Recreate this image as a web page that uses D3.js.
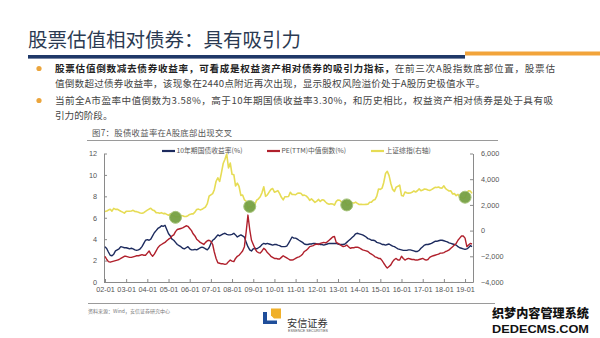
<!DOCTYPE html>
<html><head><meta charset="utf-8">
<script src="https://cdn.jsdelivr.net/npm/d3@7/dist/d3.min.js"></script>
<style>
html,body{margin:0;padding:0;background:#fff;}
svg{display:block;font-family:"Noto Sans CJK SC","Liberation Sans",sans-serif;}
</style></head>
<body><svg id="c" width="600" height="338"></svg>
<script>
// ---------- data (monthly, 2002-01 .. 2019-05) ----------
const startMonth = "2002-01";
const endMonth = "2019-05";
const bond10y = [
3.3,3.1,2.8,2.5,2.45,2.6,2.9,3.0,3.1,3.3,3.25,3.2,
3.2,3.15,3.1,3.15,3.1,3.0,2.95,3.0,3.1,3.3,3.6,3.9,
3.95,3.9,4.0,4.3,4.6,4.8,5.0,5.1,5.25,5.2,5.3,4.9,
4.5,4.3,4.0,3.9,3.7,3.5,3.4,3.3,3.15,3.1,3.2,3.3,
3.1,3.0,3.0,3.05,3.0,3.1,3.2,3.25,3.2,3.1,3.0,3.2,
3.6,3.9,4.0,4.2,4.4,4.3,4.4,4.5,4.55,4.45,4.4,4.4,
4.45,4.55,4.4,4.2,4.3,4.4,4.3,4.2,3.7,3.3,3.0,2.9,
3.1,3.15,3.1,3.2,3.3,3.5,3.6,3.55,3.6,3.55,3.5,3.45,
3.5,3.5,3.45,3.4,3.3,3.3,3.3,3.35,3.6,3.9,4.2,4.1,
4.1,4.0,3.9,3.8,3.7,3.55,3.5,3.5,3.55,3.55,3.6,3.6,
3.55,3.55,3.5,3.5,3.45,3.5,3.55,3.6,3.6,3.6,3.6,3.6,
3.55,3.5,3.5,3.5,3.55,3.7,3.85,4.0,4.15,4.3,4.5,4.55,
4.5,4.45,4.4,4.3,4.2,4.05,4.0,3.9,3.9,3.85,3.7,3.65,
3.6,3.5,3.5,3.45,3.5,3.55,3.45,3.35,3.3,3.2,3.1,3.05,
3.0,2.95,2.95,2.95,3.0,3.0,2.95,2.9,2.85,2.85,2.95,3.15,
3.3,3.45,3.5,3.5,3.55,3.6,3.7,3.8,3.8,3.85,3.9,3.9,
3.85,3.8,3.75,3.65,3.6,3.55,3.5,3.45,3.3,3.2,3.15,3.1,
3.05,3.1,3.2,3.4,3.3];
const peInverse = [
2.4,2.1,1.9,1.85,1.9,1.95,2.0,2.05,2.1,2.2,2.3,2.4,
2.4,2.35,2.3,2.3,2.35,2.4,2.45,2.45,2.5,2.55,2.5,2.5,
2.7,2.9,2.6,2.4,2.6,2.9,3.2,3.4,3.5,3.6,3.7,3.85,
4.0,4.1,4.3,4.4,4.7,4.9,4.95,5.0,5.05,5.15,5.25,5.2,
5.0,4.8,4.5,4.3,4.0,3.85,3.7,3.6,3.5,3.7,3.85,3.9,
3.8,3.5,2.8,2.2,1.8,1.75,1.7,1.7,1.65,1.7,1.9,2.05,
1.95,1.9,2.2,2.4,2.5,2.7,2.9,3.3,4.7,6.25,4.9,3.9,
3.5,3.1,2.85,2.75,2.7,2.9,3.15,3.0,2.75,2.6,2.4,2.3,
2.2,2.2,2.15,2.15,2.3,2.45,2.35,2.25,2.15,2.05,2.05,2.1,
2.2,2.3,2.35,2.45,2.6,2.85,2.95,3.1,3.3,3.35,3.4,3.5,
3.55,3.5,3.6,3.65,3.7,3.65,3.75,3.9,4.05,4.2,4.25,3.7,
3.6,3.5,3.4,3.3,3.35,3.45,3.3,3.15,3.2,3.2,3.25,3.25,
3.2,3.1,3.0,2.95,2.9,2.85,2.7,2.6,2.5,2.35,2.3,2.2,
2.2,2.0,1.75,1.5,1.3,1.45,1.6,1.9,2.1,2.2,2.05,2.05,
2.4,2.2,2.05,2.15,2.2,2.15,2.1,2.1,2.05,2.05,2.1,2.15,
2.2,2.1,2.05,2.1,2.3,2.4,2.45,2.5,2.55,2.6,2.7,2.7,
2.75,2.85,2.9,3.0,3.15,3.3,3.45,3.6,3.9,4.1,4.3,4.3,
4.1,3.3,3.45,3.6,3.55];
const shIndex = [
1490,1524,1598,1666,1516,1733,1651,1667,1582,1507,1437,1357,
1500,1511,1510,1521,1576,1487,1477,1421,1367,1348,1397,1497,
1590,1675,1742,1595,1555,1399,1386,1342,1396,1320,1340,1266,
1191,1306,1181,1159,1060,1080,1083,1162,1155,1092,1099,1161,
1258,1299,1298,1440,1641,1672,1612,1658,1752,1837,2099,2675,
2786,2881,3183,3841,4109,3820,4471,5218,5552,5954,4871,5261,
4383,4348,3472,3693,3433,2736,2775,2397,2293,1729,1871,1821,
1991,2082,2373,2477,2633,2959,3412,2668,2779,2996,3195,3277,
2989,3051,3110,2870,2592,2398,2638,2639,2656,2979,2820,2808,
2790,2905,2928,2911,2743,2762,2701,2568,2359,2468,2333,2199,
2292,2428,2263,2396,2373,2225,2103,2047,2086,2069,1980,2269,
2385,2365,2237,2177,2300,1979,1994,2098,2175,2141,2220,2116,
2033,2056,2033,2026,2039,2048,2202,2217,2364,2420,2683,3235,
3210,3310,3748,4442,4612,4277,3664,3206,3053,3383,3445,3539,
2738,2688,3004,2938,2917,2930,2979,3085,3005,3100,3250,3104,
3159,3242,3223,3155,3117,3192,3273,3361,3349,3393,3317,3307,
3481,3259,3169,3082,3095,2847,2876,2725,2821,2603,2588,2494,
2585,2941,3091,3078,2898];
const bottomMonths = ["2005-05","2008-11","2013-06","2019-01"];
const bottomIndex = [1030,1880,2000,2600];
const leftTicks = [0,2,4,6,8,10,12];
const rightTicks = [-4000,-2000,0,2000,4000,6000];
const seriesNames = ["10年期国债收益率(%)","PE(TTM)中值倒数(%)","上证综指(右轴)"];
const seriesColors = ["#1d2b5e","#b0202c","#e6dc55"];

// ---------- helpers ----------
const parseM = d3.timeParse("%Y-%m");
const months = d3.timeMonth.range(parseM(startMonth), d3.timeMonth.offset(parseM(endMonth),1));

const svg = d3.select("#c");
const cjk = '"Noto Sans CJK SC",sans-serif';
const latin = '"Liberation Sans",Arial,sans-serif';

// ---------- header ----------
svg.append("text").attr("x",28).attr("y",47).attr("font-size",19.5)
  .attr("font-family",cjk).attr("fill","#2b3a52").text("股票估值相对债券：具有吸引力");
svg.append("rect").attr("x",28).attr("y",55).attr("width",437).attr("height",3.6).attr("fill","#1f3868");
svg.append("rect").attr("x",465).attr("y",51.5).attr("width",135).attr("height",4).attr("fill","#f2a43a");

const bullets = [
  {y:72, dot:true, w:500, parts:[["股票估值倒数减去债券收益率，可看成是权益资产相对债券的吸引力指标，",true],["在前三次A股指数底部位置，股票估",false]]},
  {y:86.5, dot:false, w:430, parts:[["值倒数超过债券收益率，该现象在2440点附近再次出现，显示股权风险溢价处于A股历史极值水平。",false]]},
  {y:104, dot:true, w:498, parts:[["当前全A市盈率中值倒数为3.58%，高于10年期国债收益率3.30%，和历史相比，权益资产相对债券是处于具有吸",false]]},
  {y:118.5, dot:false, w:null, parts:[["引力的阶段。",false]]}
];
bullets.forEach(b=>{
  if(b.dot) svg.append("circle").attr("cx",39).attr("cy",b.y-3.5).attr("r",2.6).attr("fill","#eba53c");
  const t = svg.append("text").attr("x",55).attr("y",b.y).attr("font-size",9.6).attr("font-family",cjk);
  if(b.w) t.attr("textLength",b.w).attr("lengthAdjust","spacing");
  b.parts.forEach(p=>t.append("tspan").attr("font-weight",p[1]?700:400).attr("fill",p[1]?"#222":"#444").text(p[0]));
});

// ---------- chart ----------
const L=104, R=473, T=153.5, B=282;
const x = d3.scaleTime().domain([new Date(2001,11,15), new Date(2019,4,18)]).range([L,R]);
const yL = d3.scaleLinear().domain([0,12]).range([B,T]);
const yR = d3.scaleLinear().domain([-4000,6000]).range([B,T]);

svg.append("text").attr("x",92).attr("y",136).attr("font-size",8.4).attr("font-family",cjk)
  .attr("fill","#555").attr("textLength",140).attr("lengthAdjust","spacing").text("图7：股债收益率在A股底部出现交叉");
svg.append("line").attr("x1",87).attr("x2",498).attr("y1",140.5).attr("y2",140.5).attr("stroke","#9a9a9a").attr("stroke-width",1);

// legend
const legX = [162,267,371];
seriesNames.forEach((n,i)=>{
  svg.append("line").attr("x1",legX[i]).attr("x2",legX[i]+13).attr("y1",151).attr("y2",151)
    .attr("stroke",seriesColors[i]).attr("stroke-width",2.2);
  svg.append("text").attr("x",legX[i]+14.5).attr("y",153.4).attr("font-size",6.8).attr("font-family",cjk)
    .attr("fill","#555").text(n);
});

// axes
function styleAxis(g){
  g.selectAll("path").attr("stroke","#8a8a8a");
  g.selectAll("line").attr("stroke","#8a8a8a");
  g.selectAll("text").attr("fill","#555").attr("font-size",7.3).attr("font-family",latin);
}
svg.append("g").attr("transform",`translate(${L},0)`)
  .call(d3.axisLeft(yL).tickValues(leftTicks).tickSizeInner(-3).tickSizeOuter(0).tickPadding(7))
  .call(styleAxis);
svg.append("g").attr("transform",`translate(${R},0)`)
  .call(d3.axisRight(yR).tickValues(rightTicks).tickSizeInner(-3).tickSizeOuter(0).tickPadding(8))
  .call(styleAxis);
svg.append("g").attr("transform",`translate(0,${B})`)
  .call(d3.axisBottom(x).ticks(d3.timeYear.every(1)).tickFormat(d3.timeFormat("%y-%m")).tickSizeInner(-3).tickSizeOuter(0).tickPadding(5))
  .call(styleAxis);

// lines
const lineL = d3.line().x((d,i)=>x(months[i])).y(d=>yL(d));
const lineR = d3.line().x((d,i)=>x(months[i])).y(d=>yR(d));
svg.append("path").datum(shIndex).attr("d",lineR).attr("fill","none").attr("stroke",seriesColors[2]).attr("stroke-width",1.6).attr("stroke-linejoin","round");
svg.append("path").datum(bond10y).attr("d",lineL).attr("fill","none").attr("stroke",seriesColors[0]).attr("stroke-width",1.4).attr("stroke-linejoin","round");
svg.append("path").datum(peInverse).attr("d",lineL).attr("fill","none").attr("stroke",seriesColors[1]).attr("stroke-width",1.4).attr("stroke-linejoin","round");

// bottom markers
bottomMonths.forEach((m,i)=>{
  svg.append("circle").attr("cx",x(parseM(m))).attr("cy",yR(bottomIndex[i])).attr("r",6)
    .attr("fill","#76a043").attr("stroke","#a8c47c").attr("stroke-width",1).attr("fill-opacity",0.95);
});

// ---------- footer ----------
svg.append("line").attr("x1",88).attr("x2",495).attr("y1",303.5).attr("y2",303.5).attr("stroke","#9a9a9a").attr("stroke-width",1.2);
svg.append("text").attr("x",88).attr("y",313).attr("font-size",5).attr("font-family",cjk).attr("fill","#777")
  .text("资料来源：Wind，安信证券研究中心");
// logo
svg.append("path").attr("d","M263,312 h4 v8.5 h10 v3.5 h-14 z").attr("fill","#1f4e9a");
svg.append("path").attr("d","M271,308.5 h10 v10 h-7 l-3,-3 z").attr("fill","#f0b02a");
svg.append("text").attr("x",287).attr("y",327).attr("font-size",10.2).attr("font-family",cjk).attr("fill","#333").text("安信证券");
svg.append("text").attr("x",288).attr("y",332).attr("font-size",3.6).attr("font-family",latin).attr("fill","#555")
  .attr("textLength",40).attr("lengthAdjust","spacingAndGlyphs").text("ESSENCE SECURITIES");
// watermark
svg.append("text").attr("x",492).attr("y",318).attr("font-size",12).attr("font-weight",900).attr("font-family",cjk)
  .attr("fill","#111").attr("stroke","#fff").attr("stroke-width",2).attr("paint-order","stroke")
  .attr("textLength",97).attr("lengthAdjust","spacingAndGlyphs").text("织梦内容管理系统");
svg.append("text").attr("x",492).attr("y",333).attr("font-size",11).attr("font-weight",700).attr("font-family",latin)
  .attr("fill","#111").attr("stroke","#fff").attr("stroke-width",2).attr("paint-order","stroke")
  .attr("textLength",97).attr("lengthAdjust","spacingAndGlyphs").text("DEDECMS.COM");
</script></body></html>
